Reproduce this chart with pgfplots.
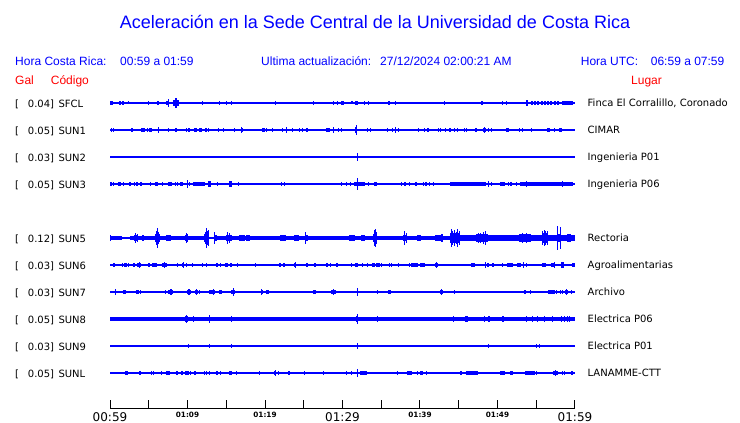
\documentclass[border=0pt]{standalone}
\usepackage{fontspec}
\setmainfont{Liberation Sans}
\newfontfamily\dv{DejaVu Sans}
\usepackage{pgfplots}
\usepackage{pgfplotstable}
\pgfplotsset{compat=1.18}
\definecolor{tblue}{RGB}{0,0,255}
\definecolor{tred}{RGB}{255,0,0}
\pgfdeclareplotmark{rect}{\pgfpathrectanglecorners{\pgfpoint{-\hw pt}{-\hh pt-0.3pt}}{\pgfpoint{\hw pt}{\hh pt+0.3pt}}\pgfusepathqfill}
% columns: m = minutes after 00:59, w = half width (px), h = half height (px)
\pgfplotstableread{
m w h
0.2 1.2 1.5
1.29 0.7 1.5
1.72 1.0 1.5
2.45 0.5 1.2
4.94 0.5 1.5
6.23 1.2 1.5
7.45 1.5 2
7.6 0.5 4
8.52 3 3
8.52 0.6 4.5
11.9 0.5 1.5
14.1 0.5 1.5
15.0 0.5 1.5
15.65 0.5 1.5
19.1 0.5 1
21.3 0.5 1.5
22.7 0.5 1
26.2 0.5 1.5
28.9 0.5 1.5
29.4 0.5 1.5
30.05 1.5 1.5
31.2 1 1.2
31.8 1.5 2
32.8 0.5 1.5
33.3 0.5 1.5
35.9 0.5 1.5
36.1 0.5 1.5
36.8 0.5 1.5
39.6 0.5 1
41.2 0.5 1
43.2 0.5 1.5
45.1 0.5 1
48.0 1 1.5
50.7 0.5 1.5
51.2 0.5 1.5
53.8 1 2.5
54.4 1 2
54.8 1 2
55.2 1 2
55.7 1 2
56.1 1 2
56.5 1 1.5
56.9 1 2
57.4 0.8 1.5
57.8 0.8 1.5
59.05 5.8 1.5
}\tSFCL
\pgfplotstableread{
m w h
0.13 0.5 1.5
0.4 0.5 1.5
2.8 1.2 1.5
4.1 0.5 1.5
4.3 1.2 1.5
4.9 0.5 1.5
5.25 1.2 1.5
6.23 0.5 3
7.5 0.5 1.5
8.5 1.2 1.5
9.9 0.5 1.5
10.2 1.2 1.5
11.05 1.2 1.5
11.7 1.2 1.5
12.35 1.2 1.5
12.7 0.5 1.5
14.0 0.5 1.5
14.6 0.5 1.5
16.1 0.5 1.5
17.0 0.5 3
17.0 1 1.5
18.2 0.5 1
19.8 1.2 1.5
20.2 0.5 1.5
21.0 0.5 1.5
22.3 0.5 1.5
22.8 0.5 3
23.5 0.5 1.5
24.5 0.5 1.5
24.8 0.5 1.5
25.4 1.2 1.5
26.5 0.5 1
28.1 2 1.5
28.8 0.5 3
29.5 0.5 1.5
29.9 0.5 1.5
31.8 1 2.5
31.8 0.5 5
33.25 0.5 1.5
33.6 0.5 1.5
35.8 0.5 1.5
36.4 0.5 1.5
36.8 0.5 3
37.2 0.5 1.5
39.8 0.5 1.5
40.6 0.5 1.5
41.0 1.2 1.5
42.4 0.5 1.5
42.6 0.5 1.5
43.35 0.5 1.5
43.9 1.2 1.5
44.5 0.5 1.5
44.8 0.5 1.5
45.7 0.5 1.5
46.0 0.5 1.5
47.1 0.5 1.5
47.3 0.5 1.5
48.3 1.2 2
48.3 0.5 3
48.9 0.5 1.5
49.25 0.5 1.5
51.3 1.2 1.5
52.9 0.5 1.5
53.2 0.5 1.5
54.4 0.5 1.5
55.35 0.5 1
56.6 1.2 1.5
57.4 0.5 1.5
58.1 1.2 1.5
58.3 0.5 1.5
59.65 0.5 1
}\tSUNa
\pgfplotstableread{
m w h
31.9 0.5 3.5
}\tSUNb
\pgfplotstableread{
m w h
0.13 1 1.5
0.4 0.5 1.5
1.2 1.7 1.5
1.7 0.5 1.5
2.6 1 1.5
3.2 0.5 1.5
3.45 1 1.5
4.0 1 1.5
5.2 0.5 1.5
6.0 1.2 1.5
6.75 0.5 1.5
7.5 0.5 1.5
7.8 1.2 1.5
8.4 0.5 1.5
8.7 0.5 1.5
9.25 1.2 1.5
10.0 0.5 3.5
10.3 0.5 1.5
11.5 5.8 1.7
12.8 1.5 2.5
13.9 0.5 1.5
15.6 1.5 2.5
16.55 0.5 1.5
17.6 0.5 1
18.9 0.5 1
22.15 0.5 1.5
22.5 0.5 1.5
24.5 0.5 1
28.6 0.5 1
29.9 0.5 1.5
30.5 0.5 1.5
31.05 0.5 1.5
32.2 5.5 1.7
31.9 0.5 6
33.3 0.5 1.5
34.3 1.5 2
35.05 0.5 1
37.6 0.5 1.5
38.1 1.2 1.5
38.6 0.5 1.5
39.5 1.2 1.5
40.4 0.5 1.5
40.8 1.2 1.5
41.2 0.5 1.5
41.7 0.5 1.5
42.2 0.5 1
46.2 18.3 1.9
48.9 0.5 3
49.25 0.5 1.5
50.6 2.5 1.7
51.4 0.5 1.5
51.8 1 1.5
52.4 0.5 1.5
56.35 26.7 1.9
53.8 0.5 2.5
58.4 0.5 2.5
}\tSUNc
\pgfplotstableread{
m w h
0.05 0.5 3
0.75 5.8 1.5
2.05 4.2 1
4.4 14 1.7
3.4 2 2.5
3.3 0.5 4.5
3.5 0.5 4
4.2 1 3
6.1 2.5 3.5
5.95 0.5 7
6.1 0.6 10
6.25 0.5 6
7.0 4.5 1.5
7.6 2.5 3
8.8 7 1.5
9.9 1.5 3
9.85 0.5 5
10.0 0.5 4
11.2 8.5 1.7
12.5 2.5 4
12.3 0.5 6
12.45 0.5 9.5
12.6 0.5 7
12.75 0.5 8
13.55 1.5 3
13.5 0.5 5.5
14.4 5.5 1.5
15.35 3 3
15.2 0.5 6
15.45 0.5 5
22.7 54 1.5
17.0 3 2.5
17.8 2 2.5
22.3 3 2.5
24.1 2.5 2.5
25.3 1.5 3
25.25 0.5 5.5
31.2 3 3
32.6 2 2.5
33.4 2.5 2
34.2 2 4
34.1 0.5 8
34.25 0.5 9
34.4 0.5 6
36.8 55 1.5
38.1 2 3
38.05 0.5 6.5
38.2 0.5 5
39.9 2 2.5
40.9 2 2
42.3 3 3
42.8 1 4
44.5 5 4.5
44.0 0.5 9
44.2 0.5 7
44.45 0.5 8
44.7 0.5 6
44.9 0.5 9
45.1 0.5 7
52.6 57.5 2.7
48.0 6 3.5
47.5 0.5 5
47.8 0.5 4.5
48.2 0.5 6
48.5 0.5 6.5
48.7 0.5 4
53.5 6 3.5
53.2 0.5 4.5
53.7 0.5 4.5
56.1 3 4.5
55.8 0.5 7
56.0 0.5 8
56.2 0.5 6.5
56.4 0.5 7
57.9 2 4
57.7 0.6 11.5
58.1 0.6 11
59.2 2 4
}\tSUNe
\pgfplotstableread{
m w h
0.5 1 1.5
1.6 0.5 1.5
2.0 1.2 1.5
2.45 0.5 1.5
3.1 1.2 1.5
3.8 2 2
3.8 0.5 3
5.0 1.2 1.5
5.75 2.2 1.5
7.0 2.5 1.7
7.0 0.5 3
8.7 0.5 1.5
9.45 1.2 1.5
9.45 0.5 3
9.9 0.5 1.5
10.6 0.5 1.5
11.9 0.5 1.5
12.5 0.5 1.5
13.8 1.2 1.5
14.3 0.5 1.5
15.05 1.5 1.5
15.6 1.2 1.5
16.5 0.5 1.5
18.8 0.5 1.5
21.9 1.2 1.5
22.45 1.2 1.5
23.9 1 1.5
23.9 0.5 3
24.9 0.5 1
25.45 1.2 1.5
26.45 1.2 1.5
27.3 0.5 1
28.0 1.2 1.5
28.5 0.5 1.5
29.3 1.2 1.5
31.2 0.5 1.5
31.8 1.2 2
32.6 0.5 1.5
33.2 0.5 1.5
34.0 1.2 2
34.6 1.7 1.5
35.05 0.5 1.5
36.0 0.5 1.5
36.3 0.5 1.5
37.2 0.5 1.5
38.6 0.5 1.5
39.3 3.3 1.5
40.3 2.5 1.5
42.1 1.5 2
42.1 0.5 3
46.8 2 1.5
48.5 0.5 3
48.8 1.2 1.5
49.45 1.2 1.5
50.7 0.5 1.5
51.4 1.2 1.5
51.8 1.2 1.5
52.8 2.2 2
53.3 0.5 3
53.8 0.5 1.5
56.0 1.7 1.5
57.2 2 1.5
57.4 0.5 3
58.4 1.2 2.5
59.8 1.2 1.5
}\tSUNf
\pgfplotstableread{
m w h
0.77 0.5 2.5
1.85 1.2 1.5
3.55 1.2 1.5
3.9 0.5 1.5
5.9 0.5 1
7.2 0.5 1.5
7.85 2.5 1.5
7.85 0.7 2.5
10.2 2 1.5
10.2 0.7 2.5
11.15 1.5 1.5
11.15 0.7 2.5
11.6 0.5 1.5
13.2 3 1.7
13.35 0.5 3
14.2 1.5 1.5
15.9 1.8 2
15.9 0.5 3.5
19.6 1.2 1.5
19.6 0.5 2.5
20.35 1.5 1.5
26.4 1.3 1.5
28.9 2.5 1.7
28.9 0.5 2.5
31.9 0.5 3.5
34.5 0.5 1.5
36.1 1.7 1.7
41.2 0.5 1
42.8 1.7 2
42.8 0.5 3
44.4 0.5 1.5
53.55 1.3 1.5
54.2 0.5 1.5
55.05 0.5 1
57.0 3.3 1.5
57.6 0.5 1.5
58.1 0.5 1.5
58.4 0.5 1.5
58.9 1.7 1.7
58.9 0.5 3
59.6 0.5 1.5
}\tSUNg
\pgfplotstableread{
m w h
30 232.5 1.7
52.0 62 2
9.9 1.7 2.5
9.9 0.5 3.5
10.75 0.5 2.5
12.8 0.5 3.5
15.65 0.5 2.5
31.9 0.5 5
31.9 1.2 2.5
34.5 0.5 2.5
44.3 0.5 2.5
46.0 1.5 2.5
48.3 0.5 2.5
48.9 1.2 2.5
50.7 1.2 2.5
53.8 0.5 2.5
54.5 0.5 2.5
55.1 0.5 2.5
56.0 0.5 2.5
57.1 0.5 2.5
58.3 0.5 2.5
58.7 0.5 2.5
59.0 0.5 2.5
59.35 0.5 2.5
}\tSUNh
\pgfplotstableread{
m w h
10.1 0.5 1.5
12.8 0.5 2
15.65 0.5 1.5
31.9 0.5 3
48.9 0.5 1.5
55.05 0.5 1.5
55.4 0.5 1.5
}\tSUNi
\pgfplotstableread{
m w h
2.15 1.2 1.5
3.9 1.2 1.5
5.3 0.5 1.5
5.6 0.5 1.5
6.6 0.5 1.5
7.5 1.7 1.5
8.65 1.2 1.5
9.3 1.2 1.5
9.7 0.5 1.5
10.0 1.2 1.5
10.45 0.5 1.5
10.95 1.2 1.5
12.2 0.5 1.5
12.4 0.5 1.5
12.8 0.5 1.5
13.8 1.2 1.5
14.2 0.5 1.5
14.3 0.5 1.5
15.5 1.5 1.5
16.35 0.5 1.5
19.35 0.5 1.5
21.3 1 1.5
21.3 0.5 2.5
21.7 0.5 1.5
23.0 0.5 1.5
23.2 0.5 1.5
25.1 0.5 1.5
27.5 0.5 1.5
30.5 0.5 1.5
31.2 0.5 1.5
31.9 0.5 4
32.7 3.3 1.5
37.1 0.5 1.5
38.6 2.5 1.5
39.65 0.5 1.5
40.2 1.2 1.5
40.85 0.5 1.5
43.35 0.5 1
44.3 0.5 1
45.3 1.2 1.5
46.7 6 1.5
48.3 0.5 1
50.6 2.5 1.5
51.8 1.3 1.5
52.5 0.5 1
54.2 5 1.5
55.05 0.5 1.5
57.5 2.5 1.5
57.5 0.5 2.5
58.4 0.5 1.5
58.7 0.5 1.5
59.6 1.2 1.5
}\tSUNL
\newcommand{\trace}[2]{%
  \addplot[draw=tblue, line width=1.1pt] coordinates {(0,#1) (60,#1)};
  \addplot[tblue, draw=none, only marks, mark=rect, scatter,
    scatter/use mapped color={draw=tblue,fill=tblue},
    point meta=\thisrow{w},
    visualization depends on={\thisrow{w}\as\hw},
    visualization depends on={\thisrow{h}\as\hh}]
    table[x=m, y expr=#1] {#2};
}
\begin{document}
\begin{tikzpicture}
\useasboundingbox (0,0) rectangle (740pt,423pt);
\begin{axis}[at={(110pt,0pt)}, anchor=south west, scale only axis,
  width=465pt, height=423pt, xmin=0, xmax=60,
  ymin=-3.8148, ymax=11.8519, y dir=reverse, hide axis, clip=false,
  point meta min=0, point meta max=300]
\trace{0}{\tSFCL}
\trace{1}{\tSUNa}
\trace{2}{\tSUNb}
\trace{3}{\tSUNc}
\trace{5}{\tSUNe}
\trace{6}{\tSUNf}
\trace{7}{\tSUNg}
\trace{8}{\tSUNh}
\trace{9}{\tSUNi}
\trace{10}{\tSUNL}
\end{axis}
\begin{axis}[at={(110pt,14pt)}, anchor=south west, scale only axis,
  width=465pt, height=20pt, xmin=0, xmax=60, ymin=0, ymax=1,
  axis x line=bottom, axis y line=none,
  x axis line style={-, line width=1pt, black},
  xtick={0,5,...,60}, major tick length=8.5pt, tick align=inside,
  tick style={line width=1pt, black},
  xticklabels={{\mdseries\fontsize{12}{12}\selectfont 00:59},{},{01:09},{},{01:19},{},{\mdseries\fontsize{12}{12}\selectfont 01:29},{},{01:39},{},{01:49},{},{\mdseries\fontsize{12}{12}\selectfont 01:59}},
  x tick label style={anchor=north, inner sep=0pt, yshift=-3pt, font=\dv\bfseries\fontsize{7.3}{8}\selectfont}]
\addplot[draw=none] coordinates {(0,0) (60,0)};
\end{axis}
% titles and labels
\node[anchor=base, inner sep=0pt, text=tblue, font=\fontsize{18}{20}\selectfont] at (375pt,394.7pt) {Aceleración en la Sede Central de la Universidad de Costa Rica};
\begin{scope}[every node/.style={anchor=base west, inner sep=0pt, font=\fontsize{12}{14}\selectfont}]
\node[text=tblue] at (15pt,357.7pt) {Hora Costa Rica:};
\node[text=tblue] at (120pt,357.7pt) {00:59 a 01:59};
\node[text=tblue] at (261pt,357.7pt) {Ultima actualización:};
\node[text=tblue] at (380pt,357.7pt) {27/12/2024 02:00:21 AM};
\node[text=tblue] at (580.7pt,357.7pt) {Hora UTC:};
\node[text=tblue] at (650.7pt,357.7pt) {06:59 a 07:59};
\node[text=tred] at (15pt,338.3pt) {Gal};
\node[text=tred] at (50.7pt,338.3pt) {Código};
\node[text=tred] at (631pt,338.3pt) {Lugar};
\end{scope}
\begin{scope}[every node/.style={anchor=base west, inner sep=0pt, font=\dv\fontsize{10}{12}\selectfont}]
\node at (15pt,315.8pt) {[}; \node at (27.7pt,315.8pt) {0.04]}; \node at (58.3pt,315.8pt) {SFCL};
\node at (15pt,288.8pt) {[}; \node at (27.7pt,288.8pt) {0.05]}; \node at (58.3pt,288.8pt) {SUN1};
\node at (15pt,261.8pt) {[}; \node at (27.7pt,261.8pt) {0.03]}; \node at (58.3pt,261.8pt) {SUN2};
\node at (15pt,234.8pt) {[}; \node at (27.7pt,234.8pt) {0.05]}; \node at (58.3pt,234.8pt) {SUN3};
\node at (15pt,180.8pt) {[}; \node at (27.7pt,180.8pt) {0.12]}; \node at (58.3pt,180.8pt) {SUN5};
\node at (15pt,153.8pt) {[}; \node at (27.7pt,153.8pt) {0.03]}; \node at (58.3pt,153.8pt) {SUN6};
\node at (15pt,126.8pt) {[}; \node at (27.7pt,126.8pt) {0.03]}; \node at (58.3pt,126.8pt) {SUN7};
\node at (15pt,99.8pt) {[}; \node at (27.7pt,99.8pt) {0.05]}; \node at (58.3pt,99.8pt) {SUN8};
\node at (15pt,72.8pt) {[}; \node at (27.7pt,72.8pt) {0.03]}; \node at (58.3pt,72.8pt) {SUN9};
\node at (15pt,45.8pt) {[}; \node at (27.7pt,45.8pt) {0.05]}; \node at (58.3pt,45.8pt) {SUNL};
\node at (587.5pt,316.3pt) {Finca El Corralillo, Coronado};
\node at (587.5pt,289.3pt) {CIMAR};
\node at (587.5pt,262.3pt) {Ingenieria P01};
\node at (587.5pt,235.3pt) {Ingenieria P06};
\node at (587.5pt,181.3pt) {Rectoria};
\node at (587.5pt,154.3pt) {Agroalimentarias};
\node at (587.5pt,127.3pt) {Archivo};
\node at (587.5pt,100.3pt) {Electrica P06};
\node at (587.5pt,73.3pt) {Electrica P01};
\node at (587.5pt,46.3pt) {LANAMME-CTT};
\end{scope}
\end{tikzpicture}
\end{document}
